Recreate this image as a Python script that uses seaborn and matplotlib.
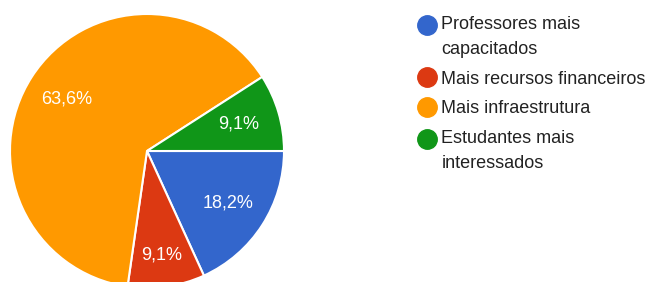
import seaborn as sns
import matplotlib.pyplot as plt
from matplotlib.lines import Line2D

# Dados
categorias = ["Professores mais\ncapacitados", "Mais recursos financeiros",
              "Mais infraestrutura", "Estudantes mais\ninteressados"]
respostas = [2, 1, 7, 1]
cores = ["#3366CC", "#DC3912", "#FF9900", "#109618"]

sns.set_style("white")
plt.rcParams['font.family'] = ['Liberation Sans', 'DejaVu Sans']

fig = plt.figure(figsize=(6.51, 2.82), dpi=100)
ax = fig.add_axes([10 / 651, -6 / 282, 274 / 651, 274 / 282])

paleta = sns.color_palette(cores)
wedges, textos, pcts = ax.pie(
    respostas,
    colors=paleta,
    startangle=0,
    counterclock=False,
    autopct=lambda p: f"{p:.1f}%".replace(".", ","),
    pctdistance=0.7,
    wedgeprops=dict(edgecolor="white", linewidth=1.5),
    textprops=dict(color="white", fontsize=13),
    radius=1,
)
# rótulo da fatia vermelha fica mais para fora
x, y = pcts[1].get_position()
pcts[1].set_position((x * 1.1, y * 1.1))

ax.set_xlim(-1, 1)
ax.set_ylim(-1, 1)
ax.set_aspect("equal")

handles = [Line2D([], [], marker="o", linestyle="", markersize=14,
                  markerfacecolor=c, markeredgecolor=c) for c in cores]
leg = fig.legend(handles, categorias, loc="upper left", bbox_to_anchor=(399 / 651, 1.0),
                 frameon=False, fontsize=13, labelcolor="#222222",
                 handletextpad=0.15, labelspacing=0.7, handlelength=1.3)
for t in leg.get_texts():
    t.set_linespacing(1.6)

# marcador alinhado com a primeira linha nos rótulos de duas linhas
for h, lab in zip(leg.legend_handles, categorias):
    if "\n" in lab:
        h.set_ydata([v + 9 for v in h.get_ydata()])

fig.savefig("out.png", dpi=100)
